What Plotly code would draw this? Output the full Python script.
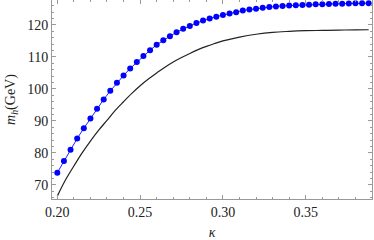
import plotly.graph_objects as go

# blue dotted series: kappa step 0.004 from 0.200
kappa_blue = [round(0.200 + 0.004 * i, 3) for i in range(48)]
mh_blue = [73.8, 77.5, 81.0, 84.5, 87.7, 90.8, 93.8, 96.7, 99.4, 101.9,
           104.2, 106.4, 108.4, 110.3, 112.1, 113.8, 115.2, 116.5, 117.7, 118.8,
           119.7, 120.6, 121.4, 122.0, 122.6, 123.1, 123.6, 124.0, 124.5, 124.8,
           125.1, 125.35, 125.6, 125.8, 125.95, 126.05, 126.15, 126.25, 126.35, 126.45,
           126.5, 126.55, 126.6, 126.65, 126.7, 126.75, 126.8, 126.8]

# black curve samples
kappa_black = [0.200, 0.205, 0.210, 0.215, 0.220, 0.225, 0.230, 0.235, 0.240, 0.245,
               0.250, 0.255, 0.260, 0.265, 0.270, 0.275, 0.280, 0.285, 0.290, 0.295,
               0.300, 0.310, 0.320, 0.330, 0.340, 0.350, 0.360, 0.370, 0.380, 0.388]
mh_black = [66.5, 71.6, 75.9, 80.0, 83.7, 87.1, 90.2, 93.3, 96.0, 98.6,
            101.0, 103.1, 105.0, 106.8, 108.4, 109.8, 111.1, 112.3, 113.3, 114.2,
            115.0, 116.2, 117.1, 117.7, 118.0, 118.2, 118.3, 118.4, 118.45, 118.5]

x_ticks = [0.20, 0.25, 0.30, 0.35]
x_tick_labels = ["0.20", "0.25", "0.30", "0.35"]
y_ticks = [70, 80, 90, 100, 110, 120]

serif = "Liberation Serif, Times New Roman, DejaVu Serif, serif"

fig = go.Figure()
fig.add_trace(go.Scatter(x=kappa_black, y=mh_black, mode="lines",
                         line=dict(color="#222222", width=1.2, shape="spline"),
                         showlegend=False))
fig.add_trace(go.Scatter(x=kappa_blue, y=mh_blue, mode="lines+markers",
                         line=dict(color="#2020ff", width=1),
                         marker=dict(color="#0000ff", size=6),
                         showlegend=False))

axis_common = dict(
    showgrid=False, zeroline=False, showline=True, linecolor="#999999", linewidth=1,
    mirror="ticks", ticks="inside", ticklen=4, tickcolor="#999999", tickwidth=1,
    tickfont=dict(family=serif, size=14, color="#222222"),
)

fig.update_xaxes(range=[0.1968, 0.390], tickvals=x_ticks, ticktext=x_tick_labels,
                 minor=dict(dtick=0.01, ticks="inside", ticklen=2, tickcolor="#999999"),
                 title=dict(text="<i>κ</i>", font=dict(family=serif, size=14, color="#222222"),
                            standoff=8),
                 **axis_common)
fig.update_yaxes(range=[65.6, 127.8], tickvals=y_ticks,
                 minor=dict(dtick=2, ticks="inside", ticklen=2, tickcolor="#999999"),
                 title=dict(text="<i>m</i><sub><i>h</i></sub>(GeV)",
                            font=dict(family=serif, size=14, color="#222222"), standoff=8),
                 **axis_common)

fig.update_layout(width=374, height=240, margin=dict(l=52, r=2, t=0, b=41),
                  plot_bgcolor="white", paper_bgcolor="white")

fig.write_html("out.html", config={"displayModeBar": False},
               post_script="document.body.style.margin='0px';document.body.style.padding='0px';")
